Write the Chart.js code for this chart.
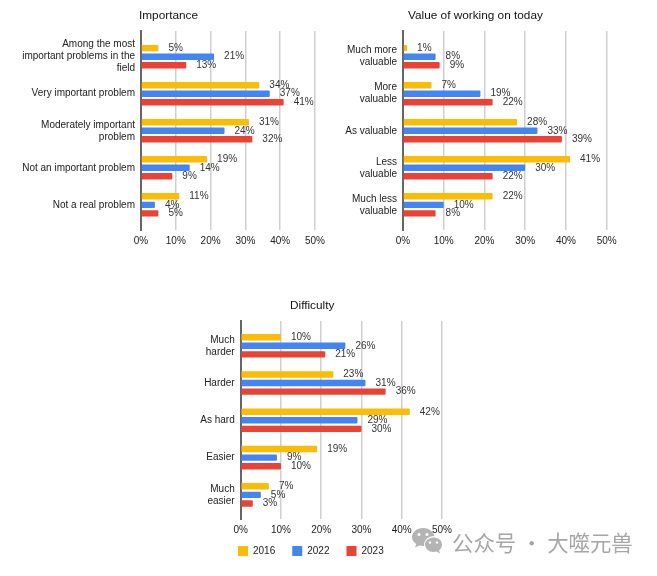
<!DOCTYPE html>
<html>
<head>
<meta charset="utf-8">
<script src="https://cdn.jsdelivr.net/npm/chart.js@4"></script>
<style>
  html, body { margin: 0; padding: 0; background: #fff; overflow: hidden; }
  #page { position: relative; width: 657px; height: 576px; overflow: hidden; }
  .box { position: absolute; }
  #mark { position: absolute; left: 452px; top: 526px; font: 21.400px "Noto Sans CJK SC"; color: #a6a6a6; white-space: nowrap; }
  #logo { position: absolute; left: 411px; top: 527px; }
</style>
</head>
<body>
<div id="page">
  <div class="box" style="left:0;top:0;width:330px;height:255px"><canvas id="importance-chart"></canvas></div>
  <div class="box" style="left:330px;top:0;width:327px;height:255px"><canvas id="value-chart"></canvas></div>
  <div class="box" style="left:170px;top:290px;width:487px;height:291px"><canvas id="difficulty-chart"></canvas></div>
  <svg id="logo" width="32" height="30" viewBox="0 0 32 30">
    <path d="M12 1C5.900 1 1 5 1 10c0 2.900 1.600 5.300 4.200 7L4 20.600 8.300 18.500c1.100.3 2.300.5 3.700.5.400 0 .800 0 1.200-.1C12.400 13.500 17 9 23.500 9c-1.300-4.700-6-8-11.500-8z" fill="#b4b4b4"/>
    <path d="M31 17.500C31 13 26.700 10.500 22.500 10.500S14 13.500 14 17.500 18 25 22.500 25c1 0 2-.2 3-.5l3.500 2-1-3.200c2.200-1.500 3-3.600 3-5.800z" fill="#b4b4b4"/>
    <circle cx="8" cy="7.500" r="1.500" fill="#fff"/><circle cx="16" cy="7.500" r="1.500" fill="#fff"/>
    <circle cx="19" cy="15.500" r="1.200" fill="#fff"/><circle cx="26" cy="15.500" r="1.200" fill="#fff"/>
  </svg>
  <div id="mark">公众号 · 大噬元兽</div>
</div>
<script>
const years = ['2016', '2022', '2023'];
const yearColors = ['#fbbc04', '#4285f4', '#ea4335'];
const xTicks = [0, 10, 20, 30, 40, 50];

const importanceLabels = [
  ['Among the most', 'important problems in the', 'field'],
  'Very important problem',
  ['Moderately important', 'problem'],
  'Not an important problem',
  'Not a real problem'
];
const importance2016 = [5, 34, 31, 19, 11];
const importance2022 = [21, 37, 24, 14, 4];
const importance2023 = [13, 41, 32, 9, 5];

const valueLabels = [
  ['Much more', 'valuable'],
  ['More', 'valuable'],
  'As valuable',
  ['Less', 'valuable'],
  ['Much less', 'valuable']
];
const value2016 = [1, 7, 28, 41, 22];
const value2022 = [8, 19, 33, 30, 10];
const value2023 = [9, 22, 39, 22, 8];

const difficultyLabels = [
  ['Much', 'harder'],
  'Harder',
  'As hard',
  'Easier',
  ['Much', 'easier']
];
const difficulty2016 = [10, 23, 42, 19, 7];
const difficulty2022 = [26, 31, 29, 9, 5];
const difficulty2023 = [21, 36, 30, 10, 3];

const FONT = 'Liberation Sans';

// percent labels just past the end of each bar
const barLabels = {
  id: 'barLabels',
  afterDatasetsDraw(chart) {
    const ctx = chart.ctx;
    ctx.save();
    ctx.font = `10px "${FONT}"`;
    ctx.fillStyle = '#333';
    ctx.textBaseline = 'middle';
    chart.data.datasets.forEach((ds, d) => {
      chart.getDatasetMeta(d).data.forEach((bar, i) => {
        ctx.fillText(ds.data[i] + '%', bar.x + 10, bar.y);
      });
    });
    ctx.restore();
  }
};

// title and legend sit at fixed offsets, not where the layout puts them
const placement = {
  id: 'placement',
  afterLayout(chart, args, opts) {
    chart.titleBlock.left = opts.titleLeft;
    if (opts.legendLeft !== undefined) {
      chart.legend.left = opts.legendLeft;
      chart.legend.top += opts.legendShift;
    }
  }
};

function drawChart(id, cfg) {
  const { title, labels, series, axisWidth, rightPad, yMin, yMax, titleLeft, legendLeft, legendShift } = cfg;
  return new Chart(document.getElementById(id), {
    type: 'bar',
    plugins: [barLabels, placement],
    data: {
      labels: labels.map((_, i) => i),
      datasets: series.map((data, i) => ({
        label: years[i],
        data,
        backgroundColor: yearColors[i],
        borderWidth: 0,
        borderRadius: 1,
        categoryPercentage: 0.69,
        barPercentage: 0.75
      }))
    },
    options: {
      indexAxis: 'y',
      responsive: true,
      maintainAspectRatio: false,
      animation: false,
      layout: { padding: { left: 0, right: rightPad, top: 0, bottom: 0 } },
      plugins: {
        tooltip: { enabled: false },
        placement: { titleLeft, legendLeft, legendShift },
        title: {
          display: true,
          text: title,
          align: 'start',
          color: '#111',
          font: { family: FONT, size: 11.8, weight: 'normal' },
          padding: { top: 8.8, bottom: 8 }
        },
        legend: {
          display: legendLeft !== undefined,
          position: 'bottom',
          align: 'start',
          onClick: null,
          labels: {
            boxWidth: 10,
            boxHeight: 10,
            padding: 17,
            color: '#222',
            font: { family: FONT, size: 10 }
          }
        }
      },
      scales: {
        x: {
          min: 0,
          max: 50,
          afterBuildTicks: s => { s.ticks = xTicks.map(value => ({ value })); },
          afterFit: s => { s.height = 25; },
          border: { display: false },
          grid: { color: '#cfcfcf', lineWidth: 1.5, drawTicks: false },
          ticks: {
            padding: 5,
            color: '#222',
            font: { family: FONT, size: 10 },
            maxRotation: 0,
            callback: v => v + '%'
          }
        },
        y: {
          type: 'linear',
          reverse: true,
          offset: false,
          min: yMin,
          max: yMax,
          afterBuildTicks: s => { s.ticks = labels.map((_, i) => ({ value: i })); },
          afterFit: s => { s.width = axisWidth; },
          border: { color: '#666', width: 2 },
          grid: { display: false, drawTicks: false },
          ticks: {
            autoSkip: false,
            padding: 6,
            color: '#222',
            font: { family: FONT, size: 10, lineHeight: 1.2 },
            callback: v => labels[v]
          }
        }
      }
    }
  });
}

drawChart('importance-chart', {
  title: 'Importance',
  labels: importanceLabels,
  series: [importance2016, importance2022, importance2023],
  axisWidth: 141, rightPad: 14.5, yMin: -0.695, yMax: 4.68,
  titleLeft: 139
});

drawChart('value-chart', {
  title: 'Value of working on today',
  labels: valueLabels,
  series: [value2016, value2022, value2023],
  axisWidth: 73, rightPad: 50.3, yMin: -0.695, yMax: 4.68,
  titleLeft: 78
});

drawChart('difficulty-chart', {
  title: 'Difficulty',
  labels: difficultyLabels,
  series: [difficulty2016, difficulty2022, difficulty2023],
  axisWidth: 70.7, rightPad: 215, yMin: -0.666, yMax: 4.647,
  titleLeft: 120, legendLeft: 51, legendShift: -15
});
</script>
</body>
</html>
